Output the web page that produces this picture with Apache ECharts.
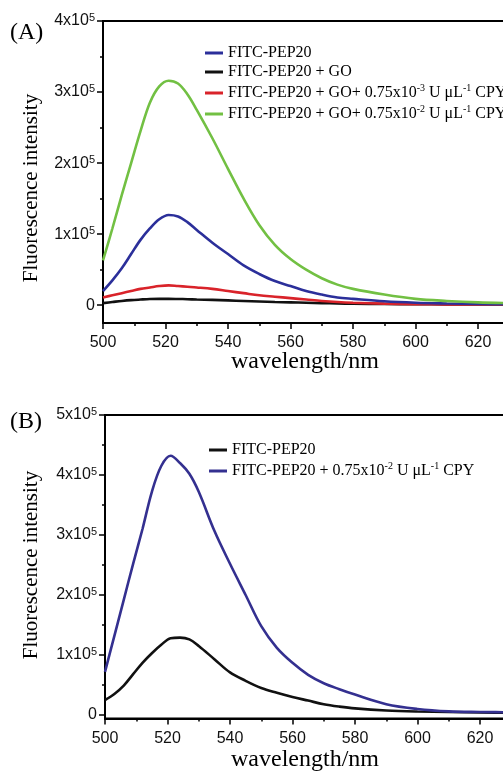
<!DOCTYPE html>
<html>
<head>
<meta charset="utf-8">
<script src="https://cdn.jsdelivr.net/npm/echarts@6/dist/echarts.min.js"></script>
<style>
html,body{margin:0;padding:0;background:#fff;}
#chart{width:503px;height:772px;}
</style>
</head>
<body>
<div id="chart"></div>
<script>
// wavelength (nm)
const wavelength = [500,503,506,509,512,515,518,521,524,527,530,535,540,545,550,555,560,565,570,575,580,590,600,610,620,630,640];
// Panel A intensities (units of 10^5)
const blueA  = [0.2,0.35,0.52,0.72,0.92,1.08,1.21,1.27,1.25,1.17,1.06,0.88,0.72,0.56,0.44,0.34,0.27,0.2,0.15,0.11,0.09,0.055,0.035,0.025,0.018,0.015,0.012];
const blackA = [0.03,0.045,0.06,0.072,0.08,0.087,0.09,0.09,0.088,0.085,0.08,0.075,0.068,0.06,0.052,0.045,0.04,0.035,0.03,0.025,0.022,0.017,0.014,0.012,0.01,0.01,0.01];
const redA   = [0.11,0.14,0.17,0.2,0.23,0.25,0.27,0.28,0.27,0.26,0.25,0.23,0.2,0.17,0.14,0.12,0.1,0.08,0.06,0.045,0.035,0.022,0.015,0.012,0.01,0.01,0.01];
const greenA = [0.63,1.08,1.55,2.0,2.45,2.85,3.08,3.16,3.12,2.97,2.75,2.35,1.92,1.5,1.13,0.85,0.65,0.5,0.38,0.29,0.23,0.15,0.09,0.06,0.04,0.03,0.025];
// Panel B intensities (units of 10^5)
const blackB = [0.25,0.35,0.49,0.68,0.87,1.03,1.17,1.28,1.29,1.26,1.15,0.93,0.71,0.57,0.45,0.37,0.3,0.24,0.18,0.14,0.11,0.075,0.058,0.05,0.042,0.04,0.04];
const blueB  = [0.72,1.32,1.92,2.52,3.1,3.72,4.15,4.32,4.2,4.02,3.72,3.07,2.52,2.0,1.48,1.12,0.87,0.67,0.53,0.43,0.34,0.18,0.1,0.06,0.05,0.045,0.04];

// tick values
const yTicksA = [0,1,2,3,4];
const yMinorA = [0.5,1.5,2.5,3.5];
const yTicksB = [0,1,2,3,4,5];
const yMinorB = [0.5,1.5,2.5,3.5,4.5];

// legend labels (rich text)
const legendText = {
  'A1': '{t|FITC-PEP20}',
  'A2': '{t|FITC-PEP20 + GO}',
  'A3': '{t|FITC-PEP20 + GO+ 0.75x10}{s|-3}{t| U μL}{s|-1}{t| CPY}',
  'A4': '{t|FITC-PEP20 + GO+ 0.75x10}{s|-2}{t| U μL}{s|-1}{t| CPY}',
  'B1': '{t|FITC-PEP20}',
  'B2': '{t|FITC-PEP20 + 0.75x10}{s|-2}{t| U μL}{s|-1}{t| CPY}'
};

const SERIF = 'Liberation Serif';
const SANS = 'Liberation Sans';

function pairs(ys){ return wavelength.map((w,i)=>[w, ys[i]]); }

function yFmt(v){ return v === 0 ? '{a|0}' : '{a|' + v + 'x10}{s|5}'; }
const yRich = {
  a:{fontFamily:SANS,fontSize:16,color:'#111',lineHeight:18},
  s:{fontFamily:SANS,fontSize:11,color:'#111',lineHeight:11,verticalAlign:'top'}
};

function xAxisDef(gi){
  return {
    type:'value', gridIndex:gi, min:500, max:640, interval:20,
    axisLine:{show:true,onZero:false,lineStyle:{color:'#000',width:2}},
    axisTick:{show:true,inside:false,length:6,lineStyle:{color:'#000',width:1.5}},
    minorTick:{show:true,splitNumber:2,length:3,lineStyle:{color:'#000',width:1.5}},
    splitLine:{show:false},
    axisLabel:{fontFamily:SANS,fontSize:16,color:'#111',margin:12}
  };
}
function yAxisDef(gi,min,max,ticks){
  return {
    type:'value', gridIndex:gi, min:min, max:max,
    axisLine:{show:true,onZero:false,lineStyle:{color:'#000',width:2}},
    axisTick:{show:true,length:6,customValues:ticks,lineStyle:{color:'#000',width:1.5}},
    splitLine:{show:false},
    axisLabel:{customValues:ticks,formatter:yFmt,rich:yRich,margin:8}
  };
}
function yMinorDef(gi,min,max,ticks){
  return {
    type:'value', gridIndex:gi, min:min, max:max, position:'left',
    axisLine:{show:false},
    axisTick:{show:true,length:3,customValues:ticks,lineStyle:{color:'#000',width:1.5}},
    splitLine:{show:false},
    axisLabel:{show:false}
  };
}
function lineSeries(name,xi,yi,ys,color){
  return {
    name:name, type:'line', xAxisIndex:xi, yAxisIndex:yi, data:pairs(ys),
    symbol:'none', smooth:0.35, color:color,
    lineStyle:{color:color,width:2.6}, itemStyle:{color:color}, z:3
  };
}
const legendStyle = {
  fontFamily:SERIF, fontSize:16, color:'#000',
  rich:{
    t:{fontFamily:SERIF,fontSize:16,color:'#000',lineHeight:20},
    s:{fontFamily:SERIF,fontSize:10,color:'#000',lineHeight:10,verticalAlign:'top'}
  }
};

const chart = echarts.init(document.getElementById('chart'), null, {renderer:'canvas'});
chart.setOption({
  backgroundColor:'#fff',
  animation:false,
  grid:[
    {left:103, top:21, width:437.5, height:302, show:true, borderColor:'#000', borderWidth:2, outerBoundsMode:'none', containLabel:false},
    {left:105, top:415, width:437.5, height:303.6, show:true, borderColor:'#000', borderWidth:2, outerBoundsMode:'none', containLabel:false}
  ],
  xAxis:[xAxisDef(0), xAxisDef(1)],
  yAxis:[
    yAxisDef(0,-0.25,4,yTicksA), yMinorDef(0,-0.25,4,yMinorA),
    yAxisDef(1,-0.06,5,yTicksB), yMinorDef(1,-0.06,5,yMinorB)
  ],
  legend:[
    {data:['A1','A2','A3','A4'], orient:'vertical', left:205, top:45, padding:0, itemGap:3,
     icon:'rect', itemWidth:18, itemHeight:3, formatter:n=>legendText[n], textStyle:legendStyle, selectedMode:false},
    {data:['B1','B2'], orient:'vertical', left:209, top:442, padding:0, itemGap:3,
     icon:'rect', itemWidth:18, itemHeight:3, formatter:n=>legendText[n], textStyle:legendStyle, selectedMode:false}
  ],
  series:[
    lineSeries('A2',0,0,blackA,'#111111'),
    lineSeries('A3',0,0,redA,'#d9232a'),
    lineSeries('A1',0,0,blueA,'#2b2f9a'),
    lineSeries('A4',0,0,greenA,'#72c043'),
    lineSeries('B1',1,2,blackB,'#111111'),
    lineSeries('B2',1,2,blueB,'#343090')
  ],
  graphic:[
    {type:'text', left:10, top:21, style:{text:'(A)', font:'24px "Liberation Serif"', fill:'#000'}},
    {type:'text', left:10, top:410, style:{text:'(B)', font:'24px "Liberation Serif"', fill:'#000'}},
    {type:'text', x:31, y:188, rotation:Math.PI/2, style:{text:'Fluorescence intensity', font:'21px "Liberation Serif"', fill:'#000', align:'center', verticalAlign:'middle', textAlign:'center', textVerticalAlign:'middle'}},
    {type:'text', x:31, y:565, rotation:Math.PI/2, style:{text:'Fluorescence intensity', font:'21px "Liberation Serif"', fill:'#000', align:'center', verticalAlign:'middle', textAlign:'center', textVerticalAlign:'middle'}},
    {type:'text', x:305, y:362, style:{text:'wavelength/nm', font:'24px "Liberation Serif"', fill:'#000', align:'center', verticalAlign:'middle', textAlign:'center', textVerticalAlign:'middle'}},
    {type:'text', x:305, y:760, style:{text:'wavelength/nm', font:'24px "Liberation Serif"', fill:'#000', align:'center', verticalAlign:'middle', textAlign:'center', textVerticalAlign:'middle'}}
  ]
});
</script>
</body>
</html>
